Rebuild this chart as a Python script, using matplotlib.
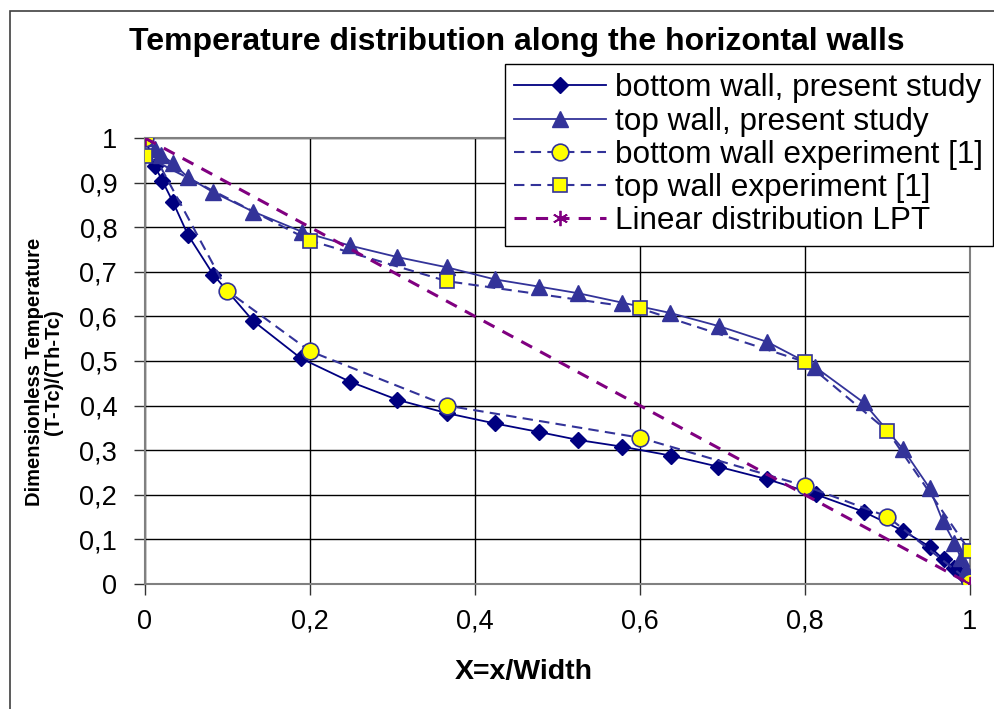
import matplotlib
matplotlib.use("Agg")
import matplotlib.pyplot as plt
from matplotlib.ticker import FuncFormatter
from matplotlib.patches import Rectangle

plt.rcParams["font.family"] = ["Liberation Sans", "DejaVu Sans"]

# bottom wall, present study
bot_x = [0.0, 0.012, 0.021, 0.034, 0.052, 0.083, 0.131, 0.189, 0.248, 0.306,
         0.366, 0.424, 0.477, 0.525, 0.578, 0.637, 0.695, 0.754, 0.813, 0.871,
         0.919, 0.951, 0.968, 0.981, 0.992, 0.999]
bot_y = [1.0, 0.937, 0.904, 0.856, 0.783, 0.693, 0.590, 0.506, 0.454, 0.413,
         0.383, 0.360, 0.341, 0.323, 0.308, 0.288, 0.263, 0.235, 0.201, 0.162,
         0.119, 0.084, 0.055, 0.035, 0.020, 0.005]

# top wall, present study
top_x = [0.0, 0.012, 0.020, 0.034, 0.052, 0.083, 0.131, 0.190, 0.248, 0.306,
         0.366, 0.424, 0.477, 0.525, 0.578, 0.636, 0.696, 0.754, 0.812, 0.871,
         0.919, 0.951, 0.967, 0.981, 0.989, 0.995, 0.999]
top_y = [1.0, 0.975, 0.962, 0.943, 0.912, 0.878, 0.835, 0.790, 0.759, 0.733,
         0.710, 0.683, 0.667, 0.652, 0.631, 0.608, 0.578, 0.543, 0.487, 0.407,
         0.302, 0.215, 0.141, 0.093, 0.058, 0.031, 0.009]

# experiments [1]
exp_bot_x = [0.0, 0.1, 0.2, 0.366, 0.6, 0.8, 0.9, 1.0]
exp_bot_y = [1.0, 0.657, 0.522, 0.400, 0.328, 0.220, 0.151, 0.005]
exp_top_x = [0.0, 0.2, 0.366, 0.6, 0.8, 0.9, 1.0]
exp_top_y = [0.960, 0.770, 0.679, 0.618, 0.498, 0.343, 0.073]

# linear distribution LPT
lpt_x = [0.0, 1.0]
lpt_y = [1.0, 0.0]

fig = plt.figure(figsize=(9.95, 7.09), dpi=100)
ax = fig.add_axes([145 / 995, 1 - 584 / 709, 825 / 995, 446 / 709])

# chart frame
fig.patches.append(Rectangle((10 / 995, -0.1), 1.2, 1 - 11 / 709 + 0.1,
                             transform=fig.transFigure, fill=False,
                             edgecolor="#404040", linewidth=1.2))

ax.plot(bot_x, bot_y, color="#000080", lw=1.3, marker="D", ms=8,
        mfc="#000080", mec="#000080", label="bottom wall, present study", zorder=4)
ax.plot(top_x, top_y, color="#333399", lw=1.3, marker="^", ms=11,
        mfc="#333399", mec="#333399", label="top wall, present study", zorder=4)
ax.plot(exp_bot_x, exp_bot_y, color="#333399", lw=1.5, ls=(0, (5, 3)),
        marker="o", ms=12, mfc="#FFFF00", mec="#333399", mew=1.2,
        label="bottom wall experiment [1]", zorder=5)
ax.plot(exp_top_x, exp_top_y, color="#333399", lw=1.5, ls=(0, (5, 3)),
        marker="s", ms=9.5, mfc="#FFFF00", mec="#333399", mew=1.2,
        label="top wall experiment [1]", zorder=5)
ax.plot(lpt_x, lpt_y, color="#800080", lw=2.2, ls=(0, (4, 3)),
        marker=(6, 2, 0), ms=11, mfc="none", mec="#800080", mew=1.3,
        label="Linear distribution LPT", zorder=6)

ax.set_xlim(0, 1)
ax.set_ylim(0, 1)
ax.set_xticks([0, 0.2, 0.4, 0.6, 0.8, 1.0])
ax.set_yticks([i / 10 for i in range(11)])
fmt = FuncFormatter(lambda v, p: ("%g" % round(v, 2)).replace(".", ","))
ax.xaxis.set_major_formatter(fmt)
ax.yaxis.set_major_formatter(fmt)
ax.tick_params(labelsize=19.5, length=8, width=1, color="#333333", pad=12)
ax.tick_params(axis="x", pad=10)
ax.grid(True, color="black", lw=1.0)
ax.set_axisbelow(True)
for s in ax.spines.values():
    s.set_color("#808080")
    s.set_linewidth(1.5)

fig.text(517 / 995, 1 - 42 / 709, "Temperature distribution along the horizontal walls",
         ha="center", va="center", fontsize=23, fontweight="bold")
fig.text(524 / 995, 1 - 672 / 709, "X=x/Width", ha="center", va="center",
         fontsize=20.5, fontweight="bold")
fig.text(44 / 995, 1 - 372 / 709, "Dimensionless Temperature\n(T-Tc)/(Th-Tc)",
         ha="center", va="center", rotation=90, fontsize=14.5, fontweight="bold",
         linespacing=1.0)

leg = ax.legend(loc="upper left", bbox_to_anchor=(505 / 995, 1 - 64 / 709),
                bbox_transform=fig.transFigure, fontsize=22.7, frameon=True,
                fancybox=False, edgecolor="black", framealpha=1,
                handlelength=2.9, handletextpad=0.3, labelspacing=0.1,
                borderpad=0.3, borderaxespad=0)
leg.get_frame().set_linewidth(1.0)
leg.set_zorder(10)

fig.savefig("out.png", dpi=100)
